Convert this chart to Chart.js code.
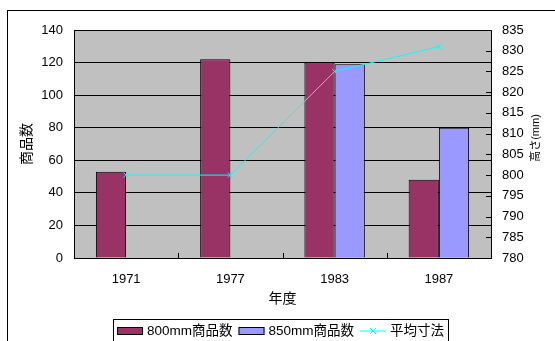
<!DOCTYPE html>
<html>
<head>
<meta charset="utf-8">
<script src="https://cdn.jsdelivr.net/npm/chart.js@4"></script>
<style>
  html, body { margin: 0; padding: 0; background: #fff; }
  canvas { display: block; }
</style>
</head>
<body>
<canvas id="chart" width="555" height="341"></canvas>
<script>
// data
const years = ['1971', '1977', '1983', '1987'];
const count800 = [53, 122, 120, 48];
const count850 = [null, null, 119, 80];
const avgSize = [800, 800, 825, 831];
const countTicks = [0, 140, 20];   // min, max, step
const sizeTicks = [780, 835, 5];

const FONT = '"Liberation Sans", "Noto Sans CJK JP", sans-serif';
const RED = '#993366', BLUE = '#9999FF', CYAN = '#00FFFF';

// draws one legend swatch, returns its width
const drawSwatch = (ctx, i, x, y) => {
  ctx.lineWidth = 1;
  if (i < 2) {
    ctx.fillStyle = i === 0 ? RED : BLUE;
    ctx.fillRect(x, y - 3.5, 26, 8);
    ctx.strokeStyle = '#000';
    ctx.strokeRect(x + 0.5, y - 3, 25, 7);
  } else {
    ctx.strokeStyle = CYAN;
    ctx.beginPath();
    ctx.moveTo(x, y + 0.5); ctx.lineTo(x + 26, y + 0.5);
    ctx.moveTo(x + 10, y - 2.5); ctx.lineTo(x + 16, y + 3.5);
    ctx.moveTo(x + 16, y - 2.5); ctx.lineTo(x + 10, y + 3.5);
    ctx.stroke();
  }
  return 26;
};

const decor = {
  id: 'decor',
  beforeDraw(chart) {
    const { ctx, chartArea: a } = chart;
    ctx.save();
    ctx.fillStyle = '#C0C0C0';
    ctx.fillRect(a.left, a.top, a.right - a.left, a.bottom - a.top);
    ctx.strokeStyle = '#808080'; ctx.lineWidth = 1;
    ctx.beginPath(); ctx.moveTo(a.left, a.top + 0.5); ctx.lineTo(a.right, a.top + 0.5); ctx.stroke();
    ctx.restore();
  },
  afterDraw(chart) {
    const { ctx, chartArea: a, scales } = chart;
    ctx.save();
    ctx.strokeStyle = '#000'; ctx.lineWidth = 1;
    // outer frame
    ctx.strokeRect(7.5, 10.5, 600, 400);
    // inside tick marks on right axis
    ctx.beginPath();
    scales.y1.ticks.forEach(t => {
      const y = Math.round(scales.y1.getPixelForValue(t.value)) + 0.5;
      ctx.moveTo(a.right - 5, y); ctx.lineTo(a.right, y);
    });
    // tick marks between categories
    const step = (a.right - a.left) / years.length;
    for (let i = 1; i < years.length; i++) {
      const x = Math.round(a.left + step * i) + 0.5;
      ctx.moveTo(x, a.bottom - 5); ctx.lineTo(x, a.bottom);
    }
    ctx.stroke();

    // right axis title, reading bottom to top
    ctx.fillStyle = '#000';
    ctx.font = '11px ' + FONT;
    ctx.textAlign = 'center'; ctx.textBaseline = 'middle';
    ctx.save();
    ctx.translate(536, 138); ctx.rotate(-Math.PI / 2);
    ctx.fillText('高さ(mm)', 0, 0);
    ctx.restore();

    // legend
    ctx.font = '13.5px ' + FONT;
    ctx.textAlign = 'left';
    const ly = 331;
    let x = 117;
    chart.data.datasets.forEach((ds, i) => {
      x += drawSwatch(ctx, i, x, ly - 0.5) + 4;
      ctx.fillStyle = '#000';
      ctx.fillText(ds.label, x, ly);
      x += ctx.measureText(ds.label).width + 6;
    });
    ctx.strokeStyle = '#000';
    ctx.strokeRect(113.5, 319.5, Math.round(x - 2 - 113), 40);
    ctx.restore();
  }
};

new Chart(document.getElementById('chart'), {
  type: 'bar',
  data: {
    labels: years,
    datasets: [
      { label: '800mm商品数', data: count800, backgroundColor: RED, borderColor: '#000', borderWidth: 1, yAxisID: 'y', order: 1 },
      { label: '850mm商品数', data: count850, backgroundColor: BLUE, borderColor: '#000', borderWidth: 1, yAxisID: 'y', order: 1 },
      { type: 'line', label: '平均寸法', data: avgSize, yAxisID: 'y1', order: 0,
        borderColor: CYAN, borderWidth: 1, fill: false, tension: 0,
        pointStyle: 'crossRot', pointRadius: 3.5, pointBorderColor: CYAN, pointBorderWidth: 1 }
    ]
  },
  options: {
    responsive: false,
    animation: false,
    devicePixelRatio: 1,
    layout: { padding: { top: 30, left: 0, right: 0, bottom: 22 } },
    datasets: { bar: { categoryPercentage: 0.58, barPercentage: 1.0 } },
    scales: {
      x: {
        grid: { display: false },
        border: { display: true, color: '#000' },
        ticks: { color: '#000', font: { family: FONT, size: 13 }, padding: 6 },
        title: { display: true, text: '年度', color: '#000', font: { family: FONT, size: 14 }, padding: { top: 0, bottom: 11 } },
        afterFit: s => { s.height = 61; }
      },
      y: {
        position: 'left',
        min: countTicks[0], max: countTicks[1],
        grid: { color: '#000', lineWidth: 1, drawTicks: false },
        border: { display: true, color: '#000' },
        ticks: { stepSize: countTicks[2], color: '#000', font: { family: FONT, size: 13 }, padding: 11 },
        title: { display: true, text: '商品数', color: '#000', font: { family: FONT, size: 14 }, padding: { top: 19, bottom: 0 } },
        afterFit: s => { s.width = 74; }
      },
      y1: {
        position: 'right',
        min: sizeTicks[0], max: sizeTicks[1],
        grid: { drawOnChartArea: false, drawTicks: false },
        border: { display: true, color: '#000' },
        ticks: { stepSize: sizeTicks[2], color: '#000', font: { family: FONT, size: 13 }, padding: 11 },
        afterFit: s => { s.width = 64; }
      }
    },
    plugins: {
      tooltip: { enabled: false },
      legend: { display: false }
    }
  },
  plugins: [decor]
});
</script>
</body>
</html>
